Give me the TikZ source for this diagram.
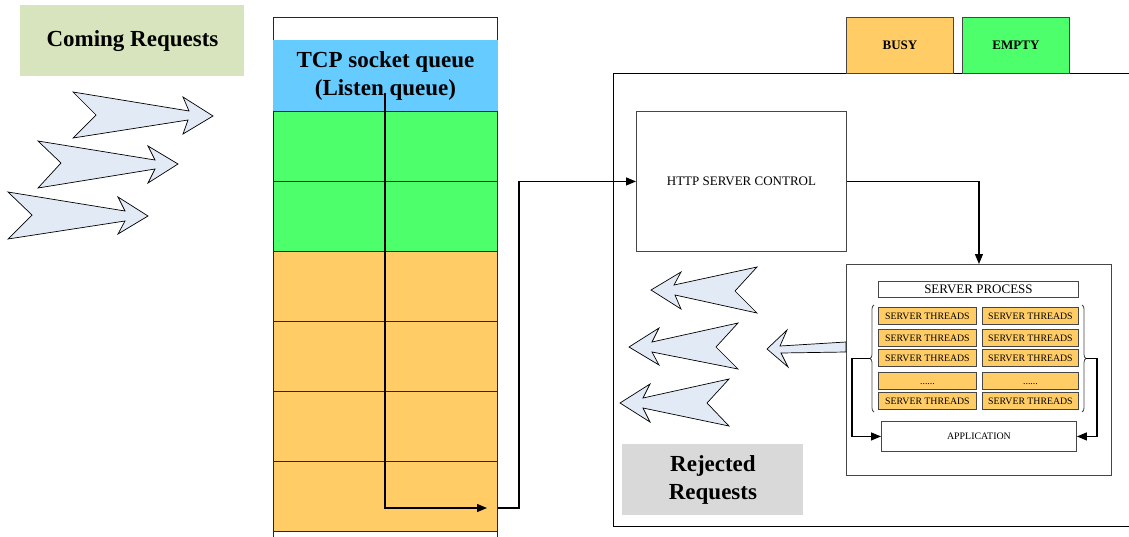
\documentclass[tikz,border=0pt]{standalone}
\usepackage{fontspec}
\setmainfont{Liberation Serif}
\usetikzlibrary{arrows.meta,decorations.pathreplacing}
\definecolor{cgreen}{RGB}{77,255,106}
\definecolor{corange}{RGB}{255,204,102}
\definecolor{cblue}{RGB}{102,204,255}
\definecolor{colive}{RGB}{215,228,189}
\definecolor{cgray}{RGB}{217,217,217}
\definecolor{carrow}{RGB}{226,234,246}
\definecolor{cedge}{RGB}{70,70,70}
\begin{document}
\begin{tikzpicture}[x=1pt,y=-1pt,
  box/.style={draw=cedge, line width=0.9pt, inner sep=0pt, anchor=north west, align=center},
  cell/.style={box, draw=black!85, minimum width=224pt, minimum height=70pt},
  thread/.style={box, fill=corange, minimum height=17pt, text height=7pt, text depth=0pt, font=\fontsize{9.8}{10}\selectfont},
  conn/.style={draw=black, line width=1.2pt},
  tipped/.style={-{Triangle[length=10pt,width=8pt]}},
  fatarrow/.style={draw=black, line width=0.7pt, fill=carrow, line join=miter},
  bigtext/.style={font=\fontsize{23}{28}\selectfont\bfseries},
  midtext/.style={font=\fontsize{13}{15}\selectfont},
  bracestyle/.style={draw=cedge, line width=0.8pt, decorate, decoration={brace, amplitude=4pt}},
]
\useasboundingbox (0,0) rectangle (1129,536);

% outer server area (its right side runs past the page edge)
\node[box, draw=black, minimum width=540pt, minimum height=453pt] (outer) at (613,73) {};

% legend
\node[box, fill=corange, minimum width=107pt, minimum height=56pt, font=\fontsize{13}{15}\selectfont\bfseries] (busy) at (846,17) {BUSY};
\node[box, fill=cgreen, minimum width=107pt, minimum height=56pt, font=\fontsize{13}{15}\selectfont\bfseries] (empty) at (962,17) {EMPTY};

% coming requests
\node[box, draw=none, fill=colive, minimum width=224pt, minimum height=71pt, bigtext] (coming) at (20,5) {Coming Requests};

\draw[fatarrow] (73,92) -- (189,111) -- (183,97) -- (213,116) -- (183,134) -- (188,120) -- (73,138) -- (96,115) -- cycle;
\draw[fatarrow] (38,141) -- (155,160) -- (148,146) -- (178,164) -- (148,183) -- (155,169) -- (38,188) -- (61,163) -- cycle;
\draw[fatarrow] (8,192) -- (125,211) -- (118,197) -- (148,216) -- (118,234) -- (125,221) -- (8,239) -- (32,215) -- cycle;

% TCP queue column
\node[cell, minimum height=23pt] (q0) at (273,17) {};
\node[cell, draw=cblue, fill=cblue, minimum height=71pt, bigtext] (q1) at (273,40) {TCP socket queue\\(Listen queue)};
\node[cell, fill=cgreen] (q2) at (273,111) {};
\node[cell, fill=cgreen] (q3) at (273,181) {};
\node[cell, fill=corange] (q4) at (273,251) {};
\node[cell, fill=corange] (q5) at (273,321) {};
\node[cell, fill=corange] (q6) at (273,391) {};
\node[cell, fill=corange] (q7) at (273,461) {};
\node[cell] (q8) at (273,531) {};

% HTTP server control
\node[box, minimum width=210pt, minimum height=140pt, midtext] (http) at (636,111) {HTTP SERVER CONTROL};

% server process
\node[box, minimum width=265pt, minimum height=211pt] (sp) at (846,264) {};
\node[box, minimum width=200pt, minimum height=16pt, midtext] (sptitle) at (878,281) {SERVER PROCESS};
\node[thread, minimum width=98pt] (t11) at (878,307) {SERVER THREADS};
\node[thread, minimum width=96pt] (t12) at (982,307) {SERVER THREADS};
\node[thread, minimum width=98pt] (t21) at (878,329) {SERVER THREADS};
\node[thread, minimum width=96pt] (t22) at (982,329) {SERVER THREADS};
\node[thread, minimum width=98pt] (t31) at (878,349) {SERVER THREADS};
\node[thread, minimum width=96pt] (t32) at (982,349) {SERVER THREADS};
\node[thread, minimum width=98pt] (t41) at (878,372) {......};
\node[thread, minimum width=96pt] (t42) at (982,372) {......};
\node[thread, minimum width=98pt] (t51) at (878,392) {SERVER THREADS};
\node[thread, minimum width=96pt] (t52) at (982,392) {SERVER THREADS};
\node[box, minimum width=195pt, minimum height=30pt, font=\fontsize{9.9}{11}\selectfont] (app) at (881,421) {APPLICATION};

% braces
\draw[bracestyle] (874,412) -- (874,305);
\draw[bracestyle] (1082,305) -- (1082,412);
\coordinate (lb) at (870,358.5);
\coordinate (rb) at (1086,358.5);

% rejected requests
\node[box, draw=none, fill=cgray, minimum width=181pt, minimum height=71pt, bigtext] (rej) at (622,444) {Rejected\\Requests};

\draw[fatarrow] (651,290) -- (681,272) -- (674,285) -- (757,267) -- (735,291) -- (757,313) -- (675,295) -- (681,309) -- cycle;
\draw[fatarrow] (629,347) -- (659,328) -- (652,342) -- (738,323) -- (716,347) -- (738,369) -- (652,352) -- (659,365) -- cycle;
\draw[fatarrow] (620,403) -- (650,384) -- (643,398) -- (729,379) -- (707,403) -- (729,426) -- (643,408) -- (650,422) -- cycle;
\draw[fatarrow] (767,349) -- (787,330) -- (780,346) -- (846,342) -- (846,352) -- (781,353) -- (788,367) -- cycle;

% connectors
\coordinate (qs) at (385,93);
\coordinate (qe) at (487,508);
\draw[conn, tipped] (qs) |- (qe);
\draw[conn, tipped] (q7.east |- qe) -- (519,508) |- (http.west);
\draw[conn, tipped] (http.east) -| (sp.north);
\draw[conn, tipped] (lb) -- (852,358.5) |- (app.west);
\draw[conn, tipped] (rb) -- (1097,358.5) |- (app.east);
\end{tikzpicture}
\end{document}
